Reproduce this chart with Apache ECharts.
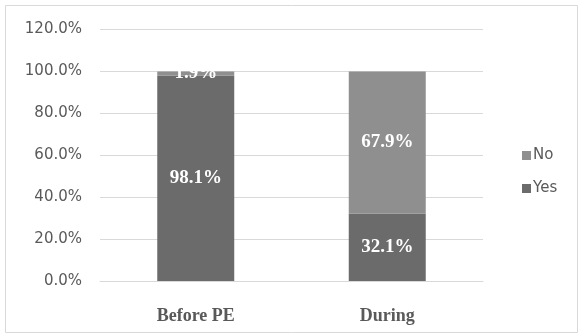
<!DOCTYPE html>
<html><head><meta charset="utf-8">
<script src="https://cdn.jsdelivr.net/npm/echarts@6/dist/echarts.min.js"></script>
<style>html,body{margin:0;padding:0;background:#fff}#c{width:579px;height:335px;}</style>
</head><body><div id="c"></div>
<script>
const categories = ['Before PE', 'During'];
const yesValues = [98.1, 32.1];
const noValues = [1.9, 67.9];
const yTicks = [0, 20, 40, 60, 80, 100, 120];

const chart = echarts.init(document.getElementById('c'), null, {renderer: 'canvas'});
const lbl = {show: true, position: 'inside', color: '#fff', fontFamily: 'Liberation Serif', fontWeight: 'bold', fontSize: 19,
  formatter: p => p.value.toFixed(1) + '%'};
chart.setOption({
  animation: false,
  graphic: [{type: 'rect', shape: {x: 5.5, y: 5.5, width: 572, height: 327}, style: {fill: 'none', stroke: '#d9d9d9', lineWidth: 1}}],
  grid: {left: 100, right: 96, top: 29.5, bottom: 54, containLabel: false},
  legend: {
    orient: 'vertical', left: 517, top: 143, itemWidth: 9, itemHeight: 9, itemGap: 18,
    icon: 'rect', data: ['No', 'Yes'],
    textStyle: {fontFamily: 'DejaVu Sans', fontSize: 15, color: '#595959', padding: [0, 0, 0, -3]}
  },
  xAxis: {
    type: 'category', data: categories,
    axisLine: {show: true, lineStyle: {color: '#d9d9d9'}}, axisTick: {show: false},
    axisLabel: {fontFamily: 'Liberation Serif', fontWeight: 'bold', fontSize: 18, color: '#595959', margin: 26}
  },
  yAxis: {
    type: 'value', min: 0, max: 120, interval: 20,
    axisLine: {show: false}, axisTick: {show: false},
    splitLine: {lineStyle: {color: '#d9d9d9', width: 1}},
    axisLabel: {fontFamily: 'DejaVu Sans', fontSize: 15, color: '#595959', margin: 18,
      formatter: v => yTicks.includes(v) ? v.toFixed(1) + '%' : ''}
  },
  series: [
    {name: 'Yes', type: 'bar', stack: 's', data: yesValues, barWidth: 77, itemStyle: {color: '#6b6b6b'}, label: lbl},
    {name: 'No', type: 'bar', stack: 's', data: noValues, barWidth: 77, itemStyle: {color: '#8f8f8f'}, label: lbl}
  ]
});
</script></body></html>
